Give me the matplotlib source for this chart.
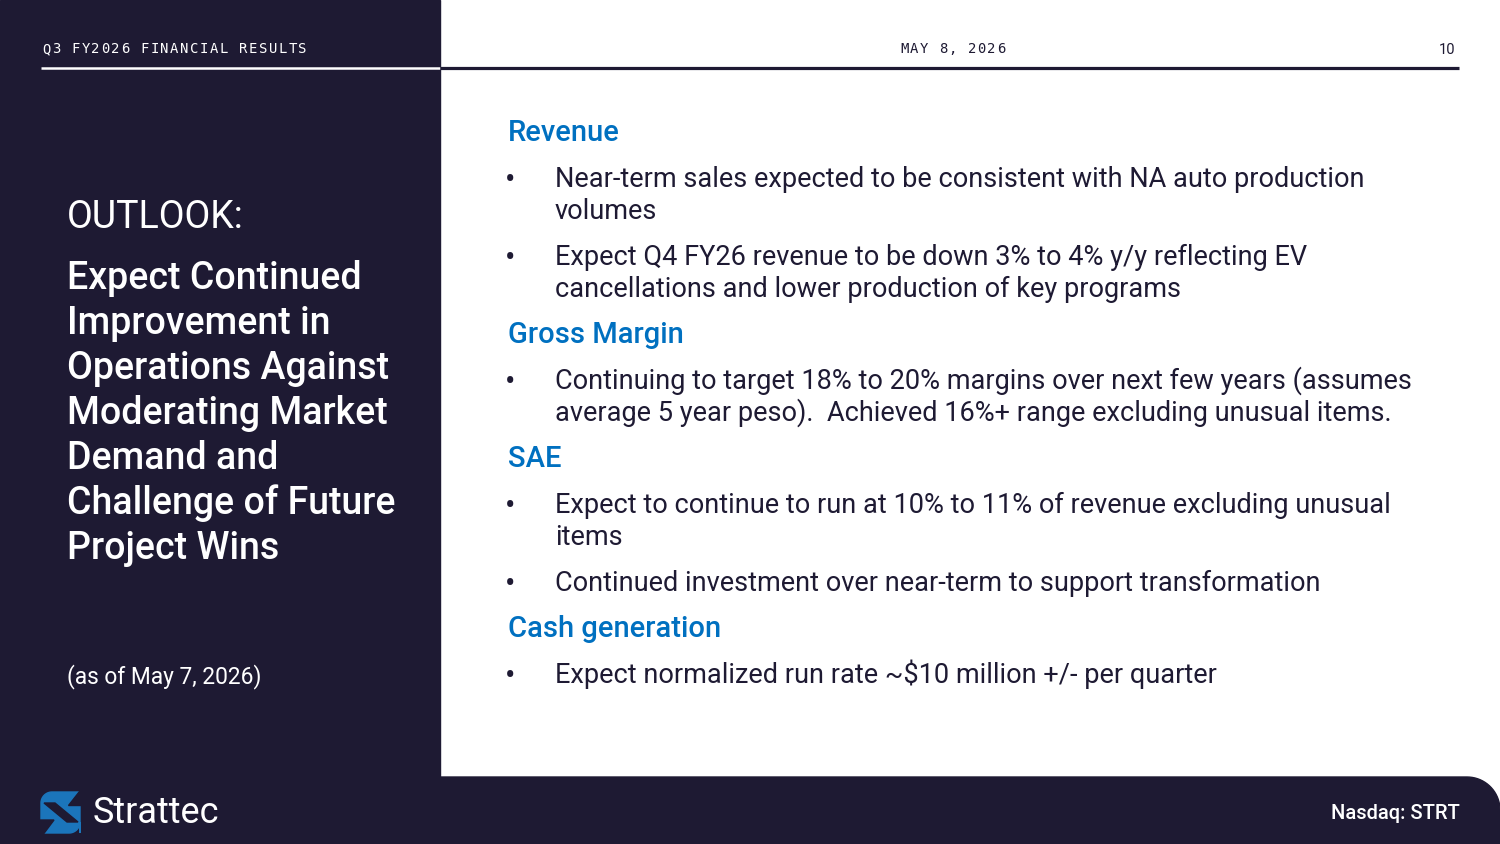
import numpy as np
import matplotlib
matplotlib.use("Agg")
import matplotlib.pyplot as plt
from matplotlib.patches import Polygon, Rectangle

# slide text
header_left = "Q3 FY2026 FINANCIAL RESULTS"
header_date = "MAY 8, 2026"
page_no = "10"
side_label = "OUTLOOK:"
side_title = ["Expect Continued", "Improvement in", "Operations Against",
              "Moderating Market", "Demand and", "Challenge of Future",
              "Project Wins"]
side_note = "(as of May 7, 2026)"
sections = ["Revenue", "Gross Margin", "SAE", "Cash generation"]
bullets = [
    [["Near-term sales expected to be consistent with NA auto production", "volumes"],
     ["Expect Q4 FY26 revenue to be down 3% to 4% y/y reflecting EV",
      "cancellations and lower production of key programs"]],
    [["Continuing to target 18% to 20% margins over next few years (assumes",
      "average 5 year peso).  Achieved 16%+ range excluding unusual items."]],
    [["Expect to continue to run at 10% to 11% of revenue excluding unusual", "items"],
     ["Continued investment over near-term to support transformation"]],
    [["Expect normalized run rate ~$10 million +/- per quarter"]],
]
brand = "Strattec"
ticker = "Nasdaq: STRT"

NAVY = "#1E1A33"
BLUE = "#0070C0"
LOGO_BLUE = "#1B75BB"

plt.rcParams['font.family'] = ['Roboto', 'DejaVu Sans']

fig = plt.figure(figsize=(15, 8.44), dpi=100)
ax = fig.add_axes([0, 0, 1, 1])
ax.set_xlim(0, 1500)
ax.set_ylim(844, 0)
ax.axis('off')


def arc(cx, cy, r, a0, a1, n=20):
    t = np.radians(np.linspace(a0, a1, n))
    return np.column_stack([cx + r * np.cos(t), cy + r * np.sin(t)])


def spaced(x, y, s, step, **kw):
    # monospace text with extra letter spacing
    for i, ch in enumerate(s):
        ax.text(x + i * step, y, ch, family='DejaVu Sans Mono', ha='left',
                va='baseline', **kw)


# background blocks
ax.add_patch(Rectangle((0, 0), 440, 844, color=NAVY, zorder=0))
r = 33
band = np.vstack([[[0, 844], [0, 777]], arc(1500 - r, 777 + r, r, 270, 360), [[1500, 844]]])
ax.add_patch(Polygon(band, closed=True, color=NAVY, zorder=0))

# header
ax.plot([41, 440], [68, 68], color='white', lw=1.8, solid_capstyle='butt')
ax.plot([440, 1459], [68, 68], color=NAVY, lw=2.3, solid_capstyle='butt')
spaced(42, 53, header_left, 9.85, color='white', fontsize=10)
spaced(900, 53, header_date, 9.7, color=NAVY, fontsize=10)
ax.text(1455, 54, page_no, fontsize=10.5, color=NAVY, ha='right', va='baseline')

# left panel
ax.text(67, 228, side_label, color='white', fontsize=27, va='baseline')
for i, line in enumerate(side_title):
    ax.text(67, 289 + i * 45, line, color='white', fontsize=27,
            fontweight='medium', va='baseline')
ax.text(67, 683, side_note, color='white', fontsize=16.4, va='baseline')

# right panel sections
y = 131
for k, (head, items) in enumerate(zip(sections, bullets)):
    if k > 0:
        y += 46
    ax.text(508, y + 10, head, color=BLUE, fontsize=21, fontweight='medium',
            va='baseline')
    for item in items:
        y += 46
        ax.text(505, y + 12, "\u2022", color=NAVY, fontsize=22, va='baseline')
        for j, line in enumerate(item):
            if j > 0:
                y += 32
            ax.text(555, y + 10, line, color=NAVY, fontsize=19.5, va='baseline')

# logo mark
rr = 11
mark = np.vstack([arc(41 + rr, 792 + rr, rr, 180, 270), [[80, 792], [80, 833]],
                  arc(80 - rr, 833 - rr, rr, 0, 90), [[41, 833]]])
ax.add_patch(Polygon(mark, closed=True, color=LOGO_BLUE, zorder=2))
ax.add_patch(Polygon([[44, 803], [55, 803], [78, 822], [67, 822]], closed=True,
                     color=NAVY, zorder=3))
ax.add_patch(Polygon([[78.5, 791], [81, 791], [81, 805], [68, 805]], closed=True,
                     color=NAVY, zorder=3))
ax.add_patch(Polygon([[40, 820], [54, 820], [43.5, 834], [40, 834]], closed=True,
                     color=NAVY, zorder=3))
ax.text(93, 823, brand, color='white', fontsize=26, va='baseline')

ax.text(1460, 819, ticker, color='white', fontsize=14.5, fontweight='medium',
        ha='right', va='baseline')

fig.savefig("out.png", dpi=100)
